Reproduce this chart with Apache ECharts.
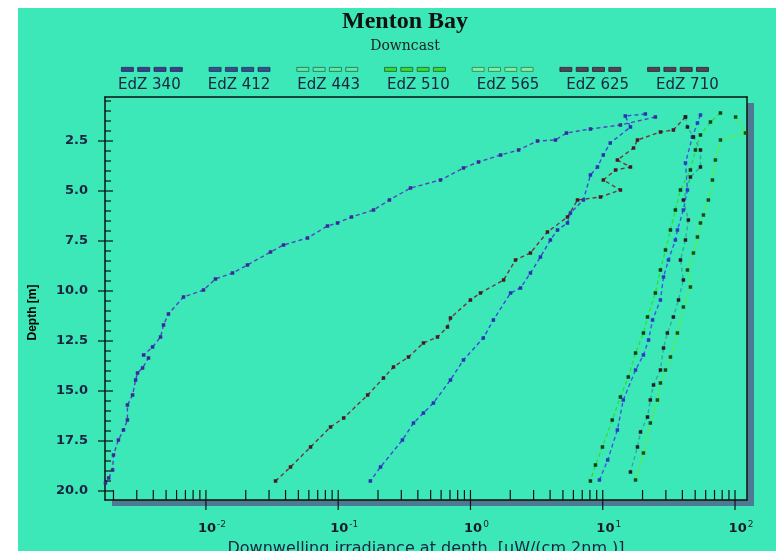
<!DOCTYPE html>
<html>
<head>
<meta charset="utf-8">
<title>Menton Bay - Downcast</title>
<script src="https://cdn.jsdelivr.net/npm/echarts@6/dist/echarts.min.js"></script>
<style>
    body { margin: 0; background: #fff; }
    #panel { position: absolute; left: 18px; top: 8px; right: 0; bottom: 0; background: #3ce8b7; }
    #chart { position: absolute; left: 0; top: 0; width: 776px; height: 551px; }
</style>
</head>
<body>
<div id="panel"></div>
<div id="chart"></div>
<script>
// depth [m] and downwelling irradiance [uW/(cm2 nm)]
const depth340 = [1.30, 1.70, 1.90, 2.10, 2.45, 2.50, 2.95, 3.20, 3.55, 3.85, 4.45, 4.85, 5.45, 5.95, 6.30, 6.60, 6.75, 7.35, 7.70, 8.05, 8.70, 9.10, 9.40, 9.95, 10.30, 11.15, 11.70, 12.30, 12.80, 13.20, 13.35, 13.85, 14.10, 14.45, 15.20, 15.70, 16.45, 16.95, 17.45, 18.20, 18.95, 19.35, 19.60]
const edz340 = [25.0, 13.6, 8.07, 5.32, 4.39, 3.21, 2.31, 1.69, 1.15, 0.885, 0.593, 0.352, 0.244, 0.185, 0.126, 0.0988, 0.0830, 0.0586, 0.0386, 0.0308, 0.0206, 0.0159, 0.0118, 0.00959, 0.00677, 0.00521, 0.00478, 0.00454, 0.00395, 0.00338, 0.00368, 0.00332, 0.00304, 0.00294, 0.00279, 0.00255, 0.00255, 0.00238, 0.00218, 0.00200, 0.00197, 0.00184, 0.00174]

const depth412 = [1.15, 1.25, 1.80, 2.60, 3.20, 3.80, 4.20, 5.45, 6.10, 6.60, 6.95, 7.45, 8.30, 9.10, 9.85, 10.10, 11.45, 12.35, 13.45, 14.45, 15.60, 16.10, 16.60, 17.45, 18.80, 19.50]
const edz412 = [21.0, 14.8, 16.2, 11.4, 10.1, 9.12, 8.07, 7.14, 5.70, 5.41, 4.55, 4.02, 3.38, 2.84, 2.39, 2.01, 1.49, 1.25, 0.885, 0.706, 0.525, 0.441, 0.371, 0.306, 0.209, 0.175]

const depth443 = [1.20, 1.60, 2.30, 3.60, 4.95, 5.95, 6.95, 7.45, 8.45, 9.30, 10.45, 11.45, 12.45, 13.20, 13.95, 15.45, 16.95, 18.45, 19.45]
const edz443 = [54.8, 52.0, 47.6, 42.2, 43.7, 40.7, 36.7, 35.4, 31.4, 28.8, 27.3, 23.8, 22.2, 20.3, 17.7, 14.3, 12.9, 10.9, 9.44]

const depth510 = [1.10, 1.55, 2.20, 2.95, 3.95, 4.95, 5.95, 6.95, 7.95, 8.95, 10.10, 11.30, 12.10, 13.10, 14.30, 15.30, 16.45, 17.80, 18.70, 19.50]
const edz510 = [77.6, 65.2, 54.8, 50.2, 46.0, 38.7, 35.4, 32.5, 29.8, 27.3, 25.0, 21.8, 20.3, 17.7, 15.6, 13.6, 11.8, 9.95, 8.81, 8.07]

const depth565 = [1.30, 2.10, 2.45, 3.45, 4.45, 5.45, 6.20, 6.60, 7.30, 8.10, 8.95, 9.80, 10.80, 12.10, 13.30, 13.95, 14.60, 15.45, 16.60, 18.10, 19.45]
const edz565 = [101, 120, 77.6, 71.1, 67.5, 62.9, 57.7, 54.8, 52.0, 48.5, 43.7, 46.0, 40.7, 36.7, 32.5, 29.8, 27.3, 25.9, 22.9, 20.3, 17.7]

const depth625 = [1.30, 1.95, 2.05, 2.45, 2.85, 3.45, 3.80, 3.95, 4.45, 4.95, 5.30, 5.45, 6.30, 7.05, 8.10, 8.45, 9.45, 10.10, 10.45, 11.35, 11.80, 12.30, 12.60, 13.30, 13.80, 14.35, 15.20, 16.35, 16.80, 17.80, 18.80, 19.50]
const edz625 = [42.2, 34.2, 27.3, 18.3, 17.1, 12.9, 16.2, 12.5, 10.1, 13.6, 9.61, 6.44, 5.41, 3.82, 2.84, 2.19, 1.78, 1.19, 1.00, 0.706, 0.670, 0.563, 0.441, 0.340, 0.262, 0.220, 0.167, 0.110, 0.0875, 0.0618, 0.0436, 0.0336]

const depth710 = [1.30, 1.80, 2.30, 2.95, 3.80, 4.30, 5.45, 6.45, 7.45, 8.45, 9.45, 10.45, 11.30, 12.10, 12.85, 13.95, 14.70, 15.45, 16.30, 17.05, 17.80, 19.05]
const edz710 = [42.2, 43.7, 48.5, 54.8, 54.8, 46.0, 40.7, 44.4, 42.2, 38.7, 40.7, 37.4, 34.2, 30.8, 28.8, 27.3, 24.2, 22.9, 21.8, 19.3, 18.3, 16.2]

const seriesNames = ['EdZ 340', 'EdZ 412', 'EdZ 443', 'EdZ 510', 'EdZ 565', 'EdZ 625', 'EdZ 710']

// axis ranges and tick positions
const xMin = 0.001726
const xMax = 123.2
const depthMin = 0.3
const depthMax = 20.45
const xMajorTicks = [0.01, 0.1, 1, 10, 100]
const xMantissas = [2, 3, 4, 5, 6, 7, 8, 9]
const xDecades = [0.001, 0.01, 0.1, 1, 10]
const depthMajorTicks = [2.5, 5, 7.5, 10, 12.5, 15, 17.5, 20]
const depthStep = 0.5

const styles = [
    { line: '#5342c4', mark: '#3a2a96', legend: '#3b3f8c', border: '#24285a' },
    { line: '#3d48da', mark: '#2a33b0', legend: '#354f8f', border: '#1f2f5a' },
    { line: '#3f55e6', mark: '#2b3cc0', legend: '#5ce9aa', border: '#2a6a4a' },
    { line: '#2fe02f', mark: '#123d1a', legend: '#3ad83a', border: '#1f5f2f' },
    { line: '#5cf02c', mark: '#1c4a1c', legend: '#7af0a8', border: '#3a7a4a' },
    { line: '#74343e', mark: '#4a1a24', legend: '#56405a', border: '#2c2030' },
    { line: 'rgba(40,150,140,0.7)', mark: '#2a1e24', legend: '#56405a', border: '#2c2030' },
]

const zip = (depths, values) => depths.map((d, i) => [values[i], d])
const lineData = [
    zip(depth340, edz340),
    zip(depth412, edz412),
    zip(depth443, edz443),
    zip(depth510, edz510),
    zip(depth565, edz565),
    zip(depth625, edz625),
    zip(depth710, edz710),
]

// tick rows: [kind, x, depth]; kind 0 minor x, 1 major x, 2 minor y, 3 major y
const tickRows = []
xDecades.forEach(dec => xMantissas.forEach(m => {
    const v = m * dec
    if (v > xMin && v < xMax) tickRows.push([0, v, depthMax])
}))
xMajorTicks.forEach(v => tickRows.push([1, v, depthMax]))
for (let d = depthStep; d <= 20; d += depthStep) {
    const major = depthMajorTicks.some(t => Math.abs(t - d) < 1e-6)
    tickRows.push([major ? 3 : 2, xMin, d])
}

const dashIcon = 'path://M0,0h12v4h-12z M16.3,0h12v4h-12z M32.6,0h12v4h-12z M48.9,0h12v4h-12z'
const textFont = 'DejaVu Sans'
const inkColor = '#1a2340'
const frameLine = { show: true, lineStyle: { color: '#111', width: 1.5 } }

// top and right frame edges, no labels
const frameAxis = position => ({
    type: 'value',
    position,
    min: 0,
    max: 1,
    axisLine: frameLine,
    axisTick: { show: false },
    axisLabel: { show: false },
    splitLine: { show: false },
})

const chart = echarts.init(document.getElementById('chart'), null, { renderer: 'canvas' })

chart.setOption({
    backgroundColor: 'transparent',
    animation: false,
    title: {
        text: 'Menton Bay',
        subtext: 'Downcast',
        left: 400,
        textAlign: 'center',
        top: 5,
        itemGap: 5,
        textStyle: { fontFamily: 'Liberation Serif', fontWeight: 'bold', fontSize: 24, color: '#111' },
        subtextStyle: { fontFamily: 'DejaVu Serif', fontSize: 14, color: '#222' },
    },
    legend: [
        {
            left: 121,
            top: 67,
            padding: 0,
            itemWidth: 61,
            itemHeight: 4,
            itemGap: 26,
            icon: dashIcon,
            formatter: () => '',
            textStyle: { fontSize: 2 },
            data: seriesNames.map((name, i) => ({
                name,
                itemStyle: { color: styles[i].legend, borderColor: styles[i].border, borderWidth: 0.8 },
            })),
        },
        {
            left: 113,
            top: 78,
            padding: 0,
            itemWidth: 0,
            itemHeight: 0,
            itemGap: 22,
            icon: 'none',
            textStyle: { fontFamily: textFont, fontSize: 15, color: inkColor, width: 65 },
            data: seriesNames,
        },
    ],
    grid: {
        show: true,
        left: 105,
        top: 97,
        width: 642,
        height: 403,
        containLabel: false,
        outerBoundsMode: 'none',
        backgroundColor: '#3ce8b7',
        borderWidth: 0,
        shadowColor: '#4d7a92',
        shadowBlur: 0,
        shadowOffsetX: 7,
        shadowOffsetY: 6,
    },
    xAxis: [
        {
            type: 'log',
            logBase: 10,
            min: xMin,
            max: xMax,
            name: 'Downwelling irradiance at depth  [uW/(cm 2nm )]',
            nameLocation: 'middle',
            nameGap: 32,
            nameTextStyle: { fontFamily: textFont, fontSize: 16, color: inkColor },
            axisLine: frameLine,
            axisTick: { show: false },
            splitLine: { show: false },
            axisLabel: {
                margin: 20,
                showMinLabel: false,
                showMaxLabel: false,
                padding: [0, 0, 0, 12],
                formatter: v => '{b|10}{s|' + Math.round(Math.log10(v)) + '}',
                rich: {
                    b: { fontFamily: textFont, fontWeight: 'bold', fontSize: 13, color: '#1a1a2a' },
                    s: { fontFamily: textFont, fontSize: 9, color: '#1a1a2a', padding: [0, 0, 9, 1] },
                },
            },
        },
        frameAxis('top'),
    ],
    yAxis: [
        {
            type: 'value',
            inverse: true,
            min: depthMin,
            max: depthMax,
            minInterval: 2.5,
            maxInterval: 2.5,
            name: 'Depth [m]',
            nameLocation: 'middle',
            nameGap: 66,
            nameTextStyle: {
                fontFamily: "'Liberation Sans Narrow', 'Liberation Sans', sans-serif",
                fontWeight: 'bold',
                fontSize: 12,
                color: '#000',
                padding: [0, 28, 0, 0],
            },
            axisLine: frameLine,
            axisTick: { show: false },
            splitLine: { show: false },
            axisLabel: {
                margin: 17,
                showMinLabel: false,
                showMaxLabel: false,
                fontFamily: textFont,
                fontWeight: 'bold',
                fontSize: 13,
                color: inkColor,
                formatter: v => v.toFixed(1),
            },
        },
        frameAxis('right'),
    ],
    series: [
        ...seriesNames.map((name, i) => ({
            name,
            type: 'line',
            data: lineData[i],
            symbol: 'rect',
            symbolSize: 3.5,
            showSymbol: true,
            lineStyle: { color: styles[i].line, width: 1.4, type: [4, 3] },
            itemStyle: { color: styles[i].mark },
            emphasis: { disabled: true },
        })),
        {
            name: 'ticks',
            type: 'custom',
            silent: true,
            clip: false,
            z: 5,
            encode: { x: 1, y: 2 },
            data: tickRows,
            renderItem: (params, api) => {
                const kind = api.value(0)
                const p = api.coord([api.value(1), api.value(2)])
                let shape
                if (kind === 0) shape = { x1: p[0], y1: p[1] - 10, x2: p[0], y2: p[1] }
                else if (kind === 1) shape = { x1: p[0], y1: p[1] - 10, x2: p[0], y2: p[1] + 10 }
                else if (kind === 2) shape = { x1: p[0], y1: p[1], x2: p[0] + 6, y2: p[1] }
                else shape = { x1: p[0] - 7, y1: p[1], x2: p[0] + 8, y2: p[1] }
                return { type: 'line', shape, style: { stroke: '#111', lineWidth: 1.2 } }
            },
        },
    ],
})

window.addEventListener('resize', () => chart.resize())
</script>
</body>
</html>
